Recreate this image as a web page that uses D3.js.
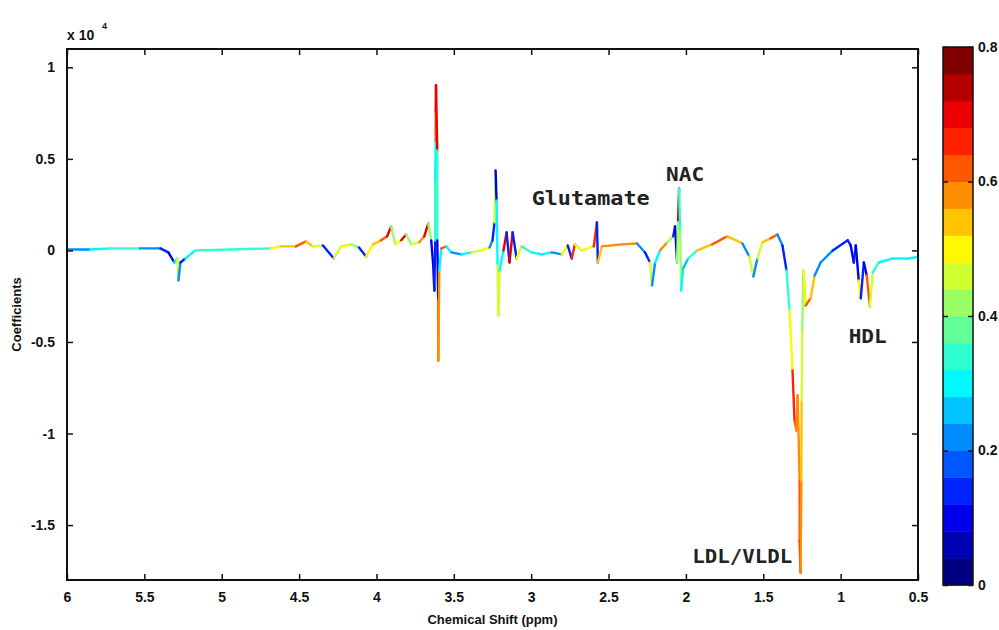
<!DOCTYPE html>
<html>
<head>
<meta charset="utf-8">
<script src="https://cdn.jsdelivr.net/npm/d3@7"></script>
<style>
  body { margin: 0; background: #ffffff; }
  svg { display: block; }
</style>
</head>
<body>
<div id="chart"></div>
<script>

// chemical shift (ppm), coefficient (x 10^4), correlation (colour)
var shiftPpm = [
  6.000, 5.851, 5.721, 5.527, 5.397, 5.345, 5.306, 5.287, 5.280, 5.267,
  5.235, 5.170, 4.943, 4.683, 4.619, 4.521, 4.456, 4.411, 4.346, 4.275,
  4.229, 4.165, 4.113, 4.067, 4.022, 3.970, 3.931, 3.905, 3.879, 3.840,
  3.808, 3.775, 3.723, 3.691, 3.665, 3.646, 3.633, 3.626, 3.620, 3.620,
  3.617, 3.617, 3.615, 3.607, 3.607, 3.601, 3.600, 3.594, 3.581, 3.548,
  3.516, 3.451, 3.386, 3.321, 3.269, 3.250, 3.237, 3.230, 3.224, 3.217,
  3.211, 3.204, 3.179, 3.159, 3.140, 3.120, 3.094, 3.062, 2.997, 2.932,
  2.867, 2.802, 2.764, 2.738, 2.718, 2.673, 2.595, 2.575, 2.569, 2.543,
  2.413, 2.316, 2.264, 2.232, 2.219, 2.199, 2.167, 2.121, 2.082, 2.070,
  2.057, 2.050, 2.044, 2.037, 2.031, 2.018, 1.985, 1.927, 1.830, 1.732,
  1.635, 1.590, 1.564, 1.538, 1.505, 1.454, 1.408, 1.376, 1.350, 1.330,
  1.311, 1.298, 1.285, 1.278, 1.265, 1.265, 1.259, 1.254, 1.252, 1.248,
  1.242, 1.239, 1.226, 1.194, 1.168, 1.129, 1.051, 0.954, 0.935, 0.915,
  0.902, 0.883, 0.870, 0.850, 0.831, 0.811, 0.792, 0.753, 0.662, 0.565,
  0.500
];

var coefficient = [
  0.005, 0.005, 0.011, 0.011, 0.011, -0.011, -0.066, -0.044, -0.164, -0.066,
  -0.044, 0.000, 0.005, 0.011, 0.022, 0.022, 0.049, 0.022, 0.027, -0.044,
  0.022, 0.033, 0.016, -0.033, 0.033, 0.055, 0.077, 0.131, 0.033, 0.055,
  0.087, 0.033, 0.044, 0.077, 0.148, 0.055, -0.082, -0.219, 0.055, 0.383,
  0.601, 0.765, 0.902, 0.546, 0.055, -0.273, -0.601, -0.109, 0.011, 0.022,
  -0.011, -0.022, -0.011, 0.000, 0.016, 0.055, 0.153, 0.437, 0.273, -0.082,
  -0.355, -0.109, 0.000, 0.098, -0.066, 0.098, -0.044, 0.022, -0.011, -0.022,
  -0.011, -0.022, 0.027, -0.044, 0.033, 0.000, 0.022, 0.153, -0.066, 0.022,
  0.033, 0.038, -0.011, -0.066, -0.191, -0.066, 0.000, 0.044, 0.077, 0.131,
  -0.066, 0.164, 0.339, 0.109, -0.219, -0.098, -0.044, 0.000, 0.033, 0.077,
  0.038, -0.033, -0.142, -0.044, 0.044, 0.066, 0.087, 0.027, -0.109, -0.328,
  -0.656, -0.929, -0.984, -0.792, -1.257, -1.585, -1.760, -1.257, -0.820, -0.437,
  -0.164, -0.109, -0.301, -0.262, -0.137, -0.066, 0.000, 0.055, 0.027, -0.066,
  0.027, -0.164, -0.262, -0.066, -0.137, -0.306, -0.120, -0.066, -0.044, -0.044,
  -0.036
];

var correlation = [
  0.20, 0.22, 0.30, 0.33, 0.20, 0.15, 0.12, 0.30, 0.48, 0.20,
  0.15, 0.30, 0.35, 0.35, 0.50, 0.55, 0.62, 0.52, 0.48, 0.15,
  0.45, 0.50, 0.40, 0.15, 0.50, 0.55, 0.60, 0.70, 0.40, 0.50,
  0.68, 0.40, 0.45, 0.58, 0.70, 0.40, 0.12, 0.10, 0.15, 0.35,
  0.30, 0.62, 0.68, 0.70, 0.35, 0.12, 0.60, 0.58, 0.30, 0.62,
  0.30, 0.20, 0.30, 0.45, 0.50, 0.20, 0.15, 0.45, 0.10, 0.30,
  0.45, 0.45, 0.30, 0.70, 0.15, 0.68, 0.15, 0.50, 0.35, 0.30,
  0.30, 0.20, 0.50, 0.15, 0.66, 0.45, 0.50, 0.66, 0.15, 0.52,
  0.56, 0.56, 0.20, 0.15, 0.48, 0.20, 0.30, 0.56, 0.40, 0.15,
  0.10, 0.40, 0.72, 0.35, 0.40, 0.30, 0.25, 0.35, 0.55, 0.62,
  0.55, 0.20, 0.48, 0.20, 0.48, 0.52, 0.62, 0.20, 0.15, 0.35,
  0.50, 0.64, 0.60, 0.58, 0.58, 0.60, 0.66, 0.58, 0.55, 0.48,
  0.40, 0.33, 0.50, 0.62, 0.52, 0.20, 0.20, 0.15, 0.15, 0.10,
  0.15, 0.12, 0.50, 0.15, 0.12, 0.62, 0.45, 0.35, 0.30, 0.30,
  0.30
];

var xTicks = [6, 5.5, 5, 4.5, 4, 3.5, 3, 2.5, 2, 1.5, 1, 0.5];
var yTicks = [1, 0.5, 0, -0.5, -1, -1.5];
var colorTicks = [0, 0.2, 0.4, 0.6, 0.8];

var labelNames = ["Glutamate", "NAC", "HDL", "LDL/VLDL"];
var labelShift = [2.997, 2.128, 0.948, 1.959];
var labelCoef = [0.246, 0.377, -0.503, -1.705];



var width = 999;
var height = 630;
var plot = { left: 67, right: 918, top: 49, bottom: 580 };
var bar = { left: 943, right: 973, top: 47, bottom: 585 };
var tickFont = "'Liberation Sans Narrow', 'Arial Narrow', 'Liberation Sans', Arial, sans-serif";
var noteFont = "'DejaVu Sans Mono', 'Liberation Mono', monospace";
var nBands = 20;



// matlab style jet
function jet(t) {
  function clamp(v) { return Math.max(0, Math.min(1, v)); }
  var r = clamp(1.5 - Math.abs(4 * t - 3));
  var g = clamp(1.5 - Math.abs(4 * t - 2));
  var b = clamp(1.5 - Math.abs(4 * t - 1));
  return d3.rgb(r * 255, g * 255, b * 255).toString();
}

var bandColors = d3.range(nBands).map(function (i) { return jet(i / (nBands - 1)); });

var colorScale = d3.scaleQuantize()
  .domain([0, 0.8])
  .range(bandColors);



var svg = d3.select("#chart").append("svg")
  .attr("width", width)
  .attr("height", height);

var x = d3.scaleLinear().domain([6, 0.5]).range([plot.left, plot.right]);
var y = d3.scaleLinear().domain([-1.8, 1.1]).range([plot.bottom, plot.top]);



// spectrum, one coloured segment per step
var points = shiftPpm.map(function (p, i) {
  return { ppm: p, coef: coefficient[i], corr: correlation[i] };
});

var line = d3.line()
  .x(function (d) { return x(d.ppm); })
  .y(function (d) { return y(d.coef); });

var spectrum = svg.append("g");

for (var i = 0; i < points.length - 1; i++) {
  spectrum.append("path")
    .attr("d", line([points[i], points[i + 1]]))
    .attr("fill", "none")
    .attr("stroke", colorScale(points[i + 1].corr))
    .attr("stroke-width", 2.4)
    .attr("stroke-linecap", "round")
    .attr("stroke-linejoin", "round");
}



// axes, ticks on all four sides (inside)
var fmt = function (d) { return String(d); };

svg.append("g")
  .attr("transform", "translate(0," + plot.bottom + ")")
  .call(d3.axisBottom(x).tickValues(xTicks).tickSize(-6).tickPadding(12).tickFormat(fmt));

svg.append("g")
  .attr("transform", "translate(0," + plot.top + ")")
  .call(d3.axisTop(x).tickValues(xTicks).tickSize(-6).tickFormat(""));

svg.append("g")
  .attr("transform", "translate(" + plot.left + ",0)")
  .call(d3.axisLeft(y).tickValues(yTicks).tickSize(-6).tickPadding(12).tickFormat(fmt));

svg.append("g")
  .attr("transform", "translate(" + plot.right + ",0)")
  .call(d3.axisRight(y).tickValues(yTicks).tickSize(-6).tickFormat(""));

svg.selectAll(".domain").remove();

svg.append("rect")
  .attr("x", plot.left)
  .attr("y", plot.top)
  .attr("width", plot.right - plot.left)
  .attr("height", plot.bottom - plot.top)
  .attr("fill", "none")
  .attr("stroke", "#111")
  .attr("stroke-width", 2);

svg.append("text")
  .attr("x", plot.left)
  .attr("y", 40)
  .attr("font-family", tickFont)
  .attr("font-size", 14)
  .attr("font-weight", "bold")
  .attr("fill", "#111")
  .text("x 10");

svg.append("text")
  .attr("x", plot.left + 35)
  .attr("y", 29)
  .attr("font-family", tickFont)
  .attr("font-size", 9)
  .attr("font-weight", "bold")
  .attr("fill", "#111")
  .text("4");

svg.append("text")
  .attr("x", (plot.left + plot.right) / 2)
  .attr("y", 624)
  .attr("text-anchor", "middle")
  .attr("font-family", tickFont)
  .attr("font-size", 13)
  .attr("font-weight", "bold")
  .attr("fill", "#111")
  .text("Chemical Shift (ppm)");

svg.append("text")
  .attr("transform", "translate(21," + ((plot.top + plot.bottom) / 2) + ") rotate(-90)")
  .attr("text-anchor", "middle")
  .attr("font-family", tickFont)
  .attr("font-size", 13)
  .attr("font-weight", "bold")
  .attr("fill", "#111")
  .text("Coefficients");



// peak annotations
var noteWidths = [118, 38, 38, 100];

labelNames.forEach(function (name, k) {
  svg.append("text")
    .attr("x", x(labelShift[k]))
    .attr("y", y(labelCoef[k]))
    .attr("font-family", noteFont)
    .attr("font-size", 20)
    .attr("font-weight", "bold")
    .attr("fill", "#222")
    .attr("textLength", noteWidths[k])
    .attr("lengthAdjust", "spacingAndGlyphs")
    .text(name);
});



// colour bar
var c = d3.scaleLinear().domain([0, 0.8]).range([bar.bottom, bar.top]);
var bandH = (bar.bottom - bar.top) / nBands;

svg.append("g").selectAll("rect")
  .data(bandColors)
  .enter().append("rect")
  .attr("x", bar.left)
  .attr("y", function (d, i) { return c((i + 1) * 0.8 / nBands); })
  .attr("width", bar.right - bar.left)
  .attr("height", bandH + 0.5)
  .attr("fill", function (d) { return d; });

svg.append("g")
  .attr("transform", "translate(" + bar.right + ",0)")
  .call(d3.axisRight(c).tickValues(colorTicks).tickSize(-5).tickPadding(5).tickFormat(fmt))
  .call(function (g) { g.select(".domain").remove(); });

svg.append("g")
  .attr("transform", "translate(" + bar.left + ",0)")
  .call(d3.axisLeft(c).tickValues(colorTicks).tickSize(-5).tickFormat(""))
  .call(function (g) { g.select(".domain").remove(); });

svg.selectAll(".tick line").attr("stroke", "#111").attr("stroke-width", 1.5);
svg.selectAll(".tick text")
  .attr("font-family", tickFont)
  .attr("font-size", 14)
  .attr("font-weight", "bold")
  .attr("fill", "#111");

svg.append("rect")
  .attr("x", bar.left)
  .attr("y", bar.top)
  .attr("width", bar.right - bar.left)
  .attr("height", bar.bottom - bar.top)
  .attr("fill", "none")
  .attr("stroke", "#111")
  .attr("stroke-width", 1.5);

</script>
</body>
</html>
